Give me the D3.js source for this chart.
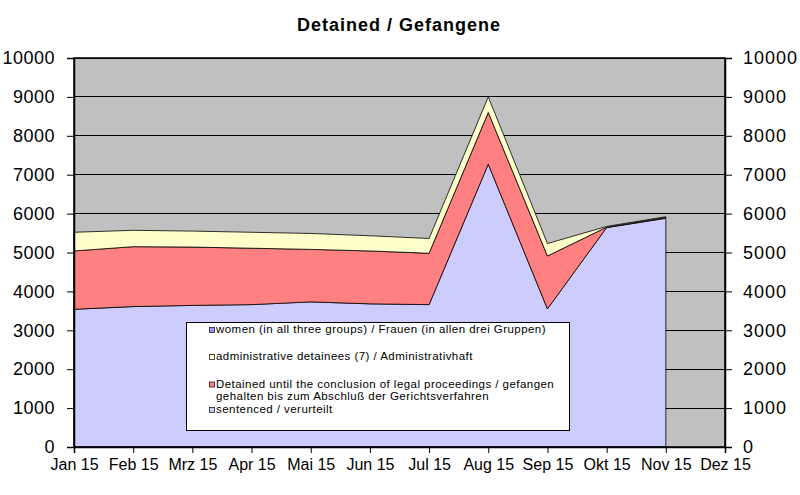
<!DOCTYPE html>
<html><head><meta charset="utf-8">
<script src="https://cdn.jsdelivr.net/npm/d3@7"></script>
<style>body{margin:0;background:#fff}svg{display:block}text{font-family:"Liberation Sans",Arial,sans-serif}</style>
</head><body>
<svg id="c" width="800" height="495"></svg>
<script>
const months = ["Jan 15","Feb 15","Mrz 15","Apr 15","Mai 15","Jun 15","Jul 15","Aug 15","Sep 15","Okt 15","Nov 15","Dez 15"];
const sentenced = [3540, 3610, 3640, 3660, 3730, 3680, 3660, 7270, 3550, 5640, 5880];
const detained  = [1500, 1540, 1500, 1450, 1350, 1360, 1320, 1330, 1360, 10, 20];
const administrative = [480, 420, 410, 410, 410, 390, 380, 400, 320, 20, 20];
const women = [];
const yTicks = [0,1000,2000,3000,4000,5000,6000,7000,8000,9000,10000];

const seriesInfo = [
  {key:"sentenced", label:["sentenced / verurteilt"], color:"#ccccff", values:sentenced},
  {key:"detained", label:["Detained until the conclusion of legal proceedings / gefangen","gehalten bis zum Abschluß der Gerichtsverfahren"], color:"#ff8080", values:detained},
  {key:"administrative", label:["administrative detainees (7) / Administrativhaft"], color:"#ffffcc", values:administrative},
  {key:"women", label:["women (in all three groups) / Frauen (in allen drei Gruppen)"], color:"#9999ff", values:women}
];

const svg = d3.select("#c");
const L=74, R=725, T=58, B=447;
const x = d3.scalePoint().domain(months).range([L,R]);
const y = d3.scaleLinear().domain([0,10000]).range([B,T]);

svg.append("text").attr("x",399).attr("y",31).attr("text-anchor","middle")
  .style("font-size","18px").style("font-weight","bold").style("letter-spacing","1px").text("Detained / Gefangene");

svg.append("rect").attr("x",L).attr("y",T).attr("width",R-L).attr("height",B-T).attr("fill","#c0c0c0");

svg.append("g").selectAll("line").data(yTicks).join("line")
  .attr("x1",L).attr("x2",R).attr("y1",d=>y(d)).attr("y2",d=>y(d))
  .attr("stroke","#000").attr("stroke-width",1).attr("shape-rendering","crispEdges");

const rows = sentenced.map((v,i)=>({m:months[i], sentenced:v, detained:detained[i], administrative:administrative[i]}));
const stack = d3.stack().keys(["sentenced","detained","administrative"]);
const stacked = stack(rows);
const area = d3.area().x(d=>x(d.data.m)).y0(d=>y(d[0])).y1(d=>y(d[1]));
const colors = {sentenced:"#ccccff", detained:"#ff8080", administrative:"#ffffcc"};
svg.append("g").selectAll("path").data(stacked).join("path")
  .attr("d",area).attr("fill",d=>colors[d.key]).attr("stroke","#000").attr("stroke-width",0.8).attr("stroke-linejoin","round");

svg.append("rect").attr("x",L).attr("y",T).attr("width",R-L).attr("height",B-T).attr("fill","none").attr("stroke","#000").attr("stroke-width",1.5);

const yl = d3.axisLeft(y).tickValues(yTicks).tickSize(7).tickFormat(d3.format("d"));
const gL = svg.append("g").attr("transform",`translate(${L},0)`).call(yl);
const yr = d3.axisRight(y).tickValues(yTicks).tickSize(7).tickFormat(d3.format("d"));
const gR = svg.append("g").attr("transform",`translate(${R},0)`).call(yr);
const xa = d3.axisBottom(x).tickSize(6);
const gX = svg.append("g").attr("transform",`translate(0,${B})`).call(xa);
[gL,gR,gX].forEach(g=>{
  g.select(".domain").attr("stroke","#000").attr("stroke-width",1.5);
  g.selectAll(".tick line").attr("stroke","#000");
  g.selectAll("text").attr("fill","#000").style("font-family","'Liberation Sans',Arial,sans-serif");
});
gL.selectAll("text").style("font-size","18px").style("letter-spacing","0.5px").attr("x",-19);
gR.selectAll("text").style("font-size","18px").style("letter-spacing","1px").attr("x",18);
gX.selectAll("text").style("font-size","16px").attr("y",12);

// legend
const lg = svg.append("g");
lg.append("rect").attr("x",186.5).attr("y",322.5).attr("width",383).attr("height",108).attr("fill","#fff").attr("stroke","#000");
const legendItems = [seriesInfo[3], seriesInfo[2], seriesInfo[1], seriesInfo[0]];
const lineY = [[333],[360],[387.5,400],[413]];
legendItems.forEach((s,i)=>{
  lg.append("rect").attr("x",209.5).attr("y",lineY[i][0]-5.5).attr("width",5).attr("height",5)
    .attr("fill",s.color).attr("stroke","#000").attr("stroke-width",0.7);
  s.label.forEach((t,j)=>{
    lg.append("text").attr("x",216).attr("y",lineY[i][j]).style("font-size","11.5px").style("letter-spacing","0.45px").text(t);
  });
});
</script>
</body></html>
